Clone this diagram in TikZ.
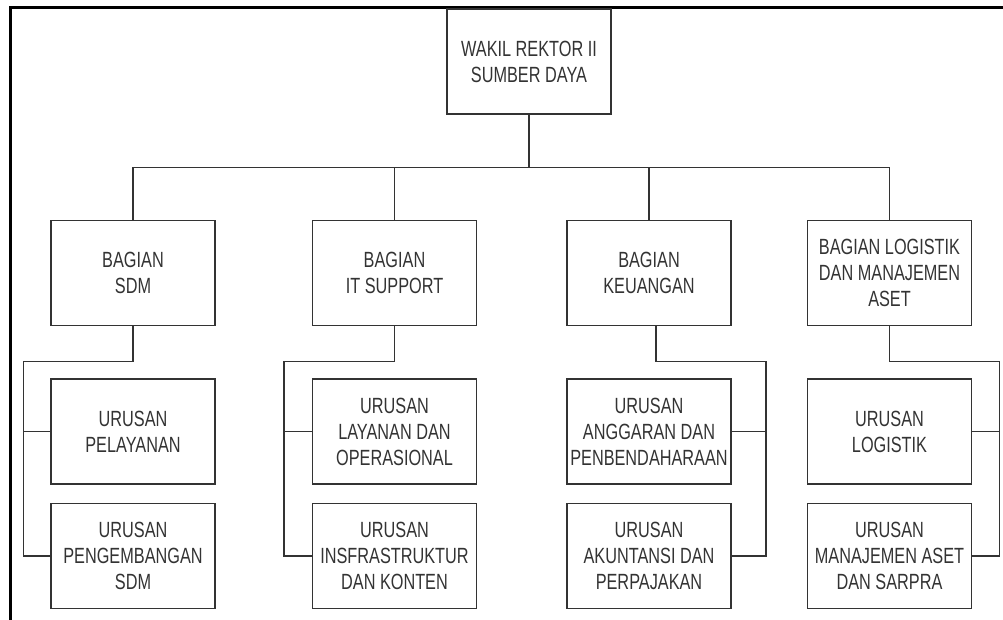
\documentclass[tikz,border=0pt]{standalone}
\usepackage{fontspec}
\setmainfont{Liberation Sans}[FakeStretch=0.74]
\usetikzlibrary{positioning}

\begin{document}
\begin{tikzpicture}[x=1pt, y=-1pt, line width=1.5pt, color=black!80,
	main/.style = {draw, rectangle, minimum width=164pt, minimum height=105pt, align=center, inner sep=0pt, font=\fontsize{22}{26}\selectfont}]
		\useasboundingbox (0,0) rectangle (1003,620);
		\draw[line width=3pt, black] (1003,8) -- (10,8) -- (10,620);

		\node[main] (1) at (529,61.5) {WAKIL REKTOR II\\SUMBER DAYA};
		\node[main] (2) at (133,273) {BAGIAN\\SDM};
		\node[main] (3) [right=96pt of 2] {BAGIAN\\IT SUPPORT};
		\node[main] (4) [right=89pt of 3] {BAGIAN\\KEUANGAN};
		\node[main] (5) [right=75pt of 4] {BAGIAN LOGISTIK\\DAN MANAJEMEN\\ASET};
		\node[main] (6) [below=52pt of 2] {URUSAN\\PELAYANAN};
		\node[main] (7) [below=18pt of 6] {URUSAN\\PENGEMBANGAN\\SDM};
		\node[main] (8) [below=52pt of 3] {URUSAN\\LAYANAN DAN\\OPERASIONAL};
		\node[main] (9) [below=18pt of 8] {URUSAN\\INSFRASTRUKTUR\\DAN KONTEN};
		\node[main] (10) [below=52pt of 4] {URUSAN\\ANGGARAN DAN\\PENBENDAHARAAN};
		\node[main] (11) [below=18pt of 10] {URUSAN\\AKUNTANSI DAN\\PERPAJAKAN};
		\node[main] (12) [below=52pt of 5] {URUSAN\\LOGISTIK};
		\node[main] (13) [below=18pt of 12] {URUSAN\\MANAJEMEN ASET\\DAN SARPRA};

		\coordinate (bus) at ([yshift=-53pt]1.south);
		\draw (1) -- (bus);
		\draw (bus) -| (2.north);
		\draw (bus) -| (3.north);
		\draw (bus) -| (4.north);
		\draw (bus) -| (5.north);

		\draw (2.south) -- ++(0,35) -| ([xshift=-27pt]7.west) -- (7.west);
		\draw ([xshift=-27pt]6.west) -- (6.west);
		\draw (3.south) -- ++(0,35) -| ([xshift=-28pt]9.west) -- (9.west);
		\draw ([xshift=-28pt]8.west) -- (8.west);
		\draw ([xshift=7pt]4.south) -- ++(0,35) -| ([xshift=34pt]11.east) -- (11.east);
		\draw ([xshift=34pt]10.east) -- (10.east);
		\draw (5.south) -- ++(0,35) -| ([xshift=27pt]13.east) -- (13.east);
		\draw ([xshift=27pt]12.east) -- (12.east);
	\end{tikzpicture}
\end{document}
